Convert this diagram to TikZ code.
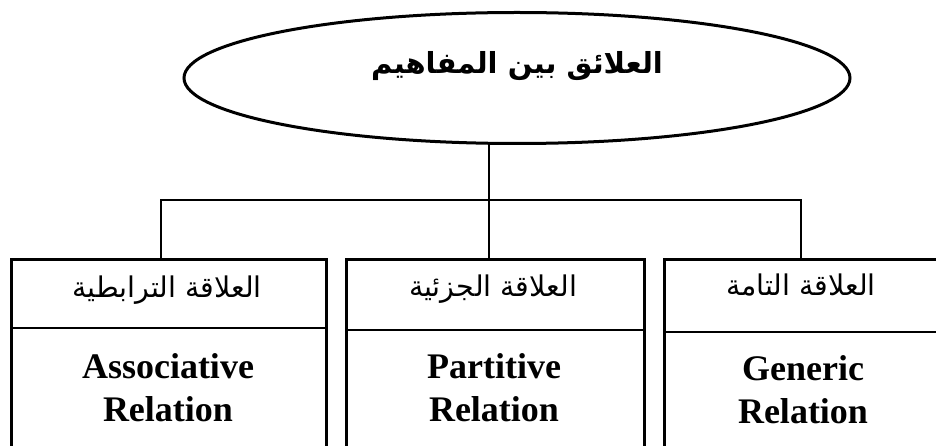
\documentclass[tikz,border=0pt]{standalone}
\usepackage{fontspec}
\setmainfont{Liberation Serif}
\newfontfamily\arabicfont[Script=Arabic]{DejaVu Sans}
\TeXXeTstate=1
\usetikzlibrary{shapes.geometric}
\tikzset{
  box/.style={draw, line width=3pt, minimum height=212pt, anchor=north west, inner sep=0pt},
  conn/.style={draw, line width=2pt},
  divider/.style={draw, line width=1.4pt},
  head/.style={font=\arabicfont\fontsize{28.5}{32}\selectfont, anchor=base, inner sep=0pt},
  body/.style={font=\bfseries\fontsize{36}{43}\selectfont, align=center, inner sep=0pt},
}
\begin{document}
\begin{tikzpicture}[x=1pt,y=-1pt]
\useasboundingbox (0,0) rectangle (936,446);
\fill[white] (0,0) rectangle (936,446);
\clip (0,0) rectangle (936,446);

% title ellipse
\node[ellipse, draw, line width=3pt, minimum width=666pt, minimum height=131pt, inner sep=0pt] (title) at (517,78) {};
\node[font=\arabicfont\bfseries\fontsize{29}{33}\selectfont, inner sep=0pt, anchor=base] (ttext) at (517,74) {\beginR العلائق بين المفاهيم\endR};

% boxes
\node[box, minimum width=315pt] (b1) at (10,258) {};
\node[box, minimum width=298pt] (b2) at (345,258) {};
\node[box, minimum width=282pt] (b3) at (663,258) {};

% dividers
\coordinate (d1) at (0,328);
\coordinate (d2) at (0,330);
\coordinate (d3) at (0,332);
\draw[divider] (b1.west |- d1) -- (b1.east |- d1);
\draw[divider] (b2.west |- d2) -- (b2.east |- d2);
\draw[divider] (b3.west |- d3) -- (b3.east |- d3);

% headers
\node[head] (h1) at (167,297) {\beginR العلاقة الترابطية\endR};
\node[head] (h2) at (493,296) {\beginR العلاقة الجزئية\endR};
\node[head] (h3) at (801,295) {\beginR العلاقة التامة\endR};

% bodies
\node[body] (t1) at (168,388) {Associative\\Relation};
\node[body] (t2) at (494,388) {Partitive\\Relation};
\node[body] (t3) at (803,390) {Generic\\Relation};

% connectors
\coordinate (top) at (489,143);
\coordinate (hub) at (489,200);
\coordinate (p1) at (161,258);
\coordinate (p2) at (489,258);
\coordinate (p3) at (801,258);
\draw[conn] (top) -- (hub);
\draw[conn] (p1) |- (hub);
\draw[conn] (p3) |- (hub);
\draw[conn] (hub) -- (p2);
\end{tikzpicture}
\end{document}
